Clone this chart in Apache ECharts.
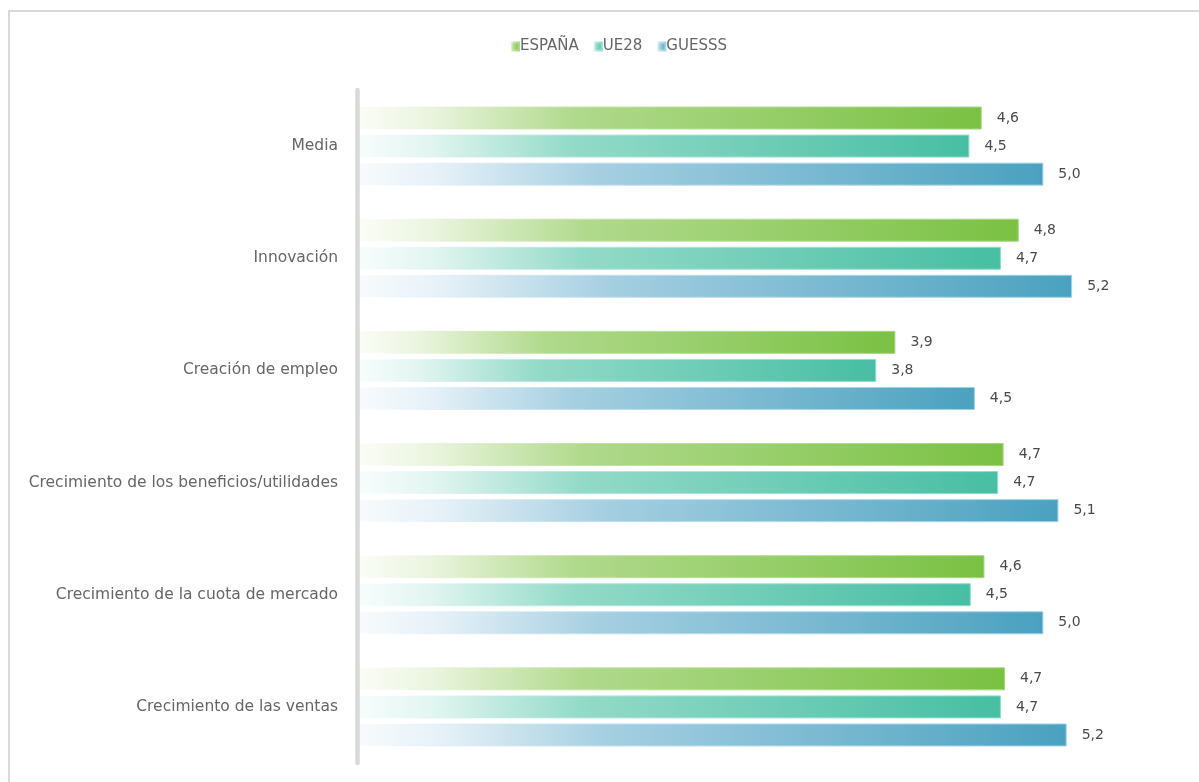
<!DOCTYPE html>
<html>
<head>
<meta charset="utf-8">
<script src="https://cdn.jsdelivr.net/npm/echarts@6/dist/echarts.min.js"></script>
<style>
html,body{margin:0;padding:0;background:#fff;overflow:hidden;}
#frame{position:absolute;left:8px;top:10px;width:1200px;height:800px;border-left:2px solid #d9d9d9;border-top:2px solid #d9d9d9;box-sizing:border-box;}
#chart{position:absolute;left:0;top:0;width:1199px;height:782px;}
</style>
</head>
<body>
<div id="frame"></div>
<div id="chart"></div>
<script>
const categories = ["Media","Innovación","Creación de empleo","Crecimiento de los beneficios/utilidades","Crecimiento de la cuota de mercado","Crecimiento de las ventas"];
const seriesNames = ["ESPAÑA","UE28","GUESSS"];
const espana = [4.56, 4.83, 3.93, 4.72, 4.58, 4.73];
const ue28   = [4.47, 4.70, 3.79, 4.68, 4.48, 4.70];
const guesss = [5.01, 5.22, 4.51, 5.12, 5.01, 5.18];

function grad(stops) {
  return new echarts.graphic.LinearGradient(0, 0, 1, 0,
    stops.map((c, k) => ({offset: [0, 0.12, 0.35, 1][k], color: c})));
}
const styles = [
  {color: grad(['#fbfdf8', '#eaf4de', '#b0d98c', '#7ac143']), border: grad(['rgba(255,255,255,0)', 'rgba(220,238,205,0.5)', '#c2e3a6', '#a6d680'])},
  {color: grad(['#f8fdfc', '#e2f5f0', '#93dac8', '#47bea3']), border: grad(['rgba(255,255,255,0)', 'rgba(210,240,232,0.5)', '#b5e6da', '#8fdcc9'])},
  {color: grad(['#f8fbfd', '#e6f1f7', '#a6cfe1', '#4aa1bf']), border: grad(['rgba(255,255,255,0)', 'rgba(215,235,245,0.5)', '#c0e0ee', '#9ad2e6'])}
];
const dataSets = [espana, ue28, guesss];
const FONT = 'DejaVu Sans';

const chart = echarts.init(document.getElementById('chart'));
chart.setOption({
  animation: false,
  textStyle: {fontFamily: FONT},
  legend: {
    top: 34, left: 505,
    itemWidth: 8, itemHeight: 8, itemGap: 14,
    icon: 'rect',
    textStyle: {color: '#666666', fontSize: 15, fontFamily: FONT, padding: [0, 0, 0, -4]},
    data: seriesNames
  },
  grid: {left: 357, right: 20, top: 90, bottom: 19, containLabel: false},
  xAxis: {
    type: 'value', min: 0, max: 6, show: false
  },
  yAxis: {
    type: 'category', data: categories, inverse: true, offset: 4, z: 10,
    axisLine: {show: true, lineStyle: {color: '#d9d9d9', width: 4.5}},
    axisTick: {show: false},
    axisLabel: {color: '#666666', fontSize: 15.5, margin: 15, fontFamily: FONT}
  },
  series: seriesNames.map((n, i) => ({
    name: n, type: 'bar',
    data: dataSets[i],
    barWidth: 23, barGap: '22%',
    itemStyle: {color: styles[i].color, borderColor: styles[i].border, borderWidth: 1},
    label: {
      show: true, position: 'right', distance: 15,
      color: '#4a4a4a', fontSize: 14, fontFamily: FONT,
      formatter: p => p.value.toFixed(1).replace('.', ',')
    }
  }))
});
</script>
</body>
</html>
